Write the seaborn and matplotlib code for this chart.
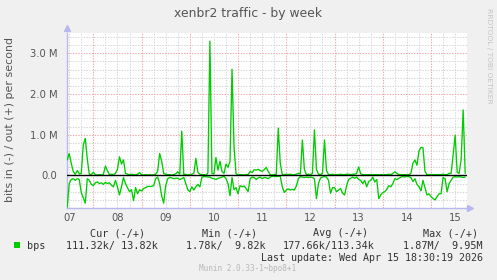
import matplotlib
matplotlib.use("Agg")
import matplotlib.pyplot as plt
from matplotlib.patches import Rectangle
import numpy as np
import pandas as pd
import seaborn as sns

# ---------------- data (M bits/s), hourly samples, hour 0 = day 07 00:00 ----------------
hours = list(range(11, 210))

out_mbps = [
    0.38, 0.54, 0.30, 0.10, 0.03, 0.12, 0.04, 0.05, 0.75, 0.91,   # 11-20
    0.40, 0.03, 0.02, 0.08, 0.02, 0.01, 0.02, 0.01, 0.03, 0.23,   # 21-30
    0.12, 0.02, 0.03, 0.02, 0.05, 0.15, 0.46, 0.28, 0.38, 0.05,   # 31-40
    0.03, 0.02, 0.03, 0.02, 0.02, 0.03, 0.07, 0.02, 0.01, 0.02,   # 41-50
    0.01, 0.02, 0.01, 0.02, 0.03, 0.10, 0.54, 0.35, 0.05, 0.03,   # 51-60
    0.02, 0.02, 0.01, 0.02, 0.04, 0.09, 0.03, 1.09, 0.02, 0.03,   # 61-70
    0.01, 0.02, 0.03, 0.05, 0.42, 0.08, 0.03, 0.02, 0.02, 0.01,   # 71-80
    0.06, 3.30, 0.05, 0.04, 0.44, 0.13, 0.35, 0.10, 0.05, 0.28,   # 81-90
    0.20, 0.35, 2.61, 0.70, 0.04, 0.02, 0.02, 0.02, 0.01, 0.02,   # 91-100
    0.02, 0.10, 0.07, 0.14, 0.13, 0.15, 0.12, 0.10, 0.14, 0.20,   # 101-110
    0.10, 0.02, 0.01, 0.02, 0.03, 1.16, 0.30, 0.02, 0.02, 0.03,   # 111-120
    0.02, 0.03, 0.02, 0.02, 0.03, 0.05, 0.04, 0.87, 0.15, 0.02,   # 121-130
    0.03, 0.02, 0.05, 1.12, 0.15, 0.03, 0.02, 0.05, 0.87, 0.12,   # 131-140
    0.02, 0.02, 0.03, 0.02, 0.02, 0.02, 0.03, 0.02, 0.02, 0.03,   # 141-150
    0.03, 0.02, 0.03, 0.03, 0.05, 0.21, 0.04, 0.02, 0.02, 0.02,   # 151-160
    0.02, 0.02, 0.02, 0.02, 0.02, 0.02, 0.02, 0.02, 0.02, 0.02,   # 161-170
    0.03, 0.02, 0.05, 0.09, 0.05, 0.02, 0.02, 0.02, 0.02, 0.02,   # 171-180
    0.02, 0.05, 0.30, 0.38, 0.25, 0.60, 0.69, 0.68, 0.10, 0.02,   # 181-190
    0.02, 0.02, 0.02, 0.02, 0.02, 0.02, 0.02, 0.03, 0.02, 0.02,   # 191-200
    0.05, 0.05, 0.50, 0.99, 0.08, 0.05, 0.40, 1.61, 0.05,         # 201-209
]

in_mbps = [
    0.78, 0.20, 0.10, 0.08, 0.12, 0.08, 0.10, 0.42, 0.55, 0.68,   # 11-20
    0.08, 0.12, 0.22, 0.25, 0.18, 0.16, 0.20, 0.18, 0.22, 0.17,   # 21-30
    0.20, 0.18, 0.24, 0.28, 0.12, 0.28, 0.48, 0.28, 0.05, 0.20,   # 31-40
    0.30, 0.40, 0.35, 0.62, 0.30, 0.45, 0.35, 0.38, 0.32, 0.30,   # 41-50
    0.27, 0.27, 0.27, 0.25, 0.08, 0.04, 0.20, 0.50, 0.68, 0.25,   # 51-60
    0.08, 0.05, 0.06, 0.08, 0.07, 0.07, 0.10, 0.08, 0.05, 0.20,   # 61-70
    0.35, 0.40, 0.28, 0.36, 0.28, 0.22, 0.28, 0.04, 0.03, 0.03,   # 71-80
    0.04, 0.04, 0.07, 0.08, 0.10, 0.07, 0.06, 0.04, 0.02, 0.08,   # 81-90
    0.20, 0.50, 0.05, 0.35, 0.30, 0.45, 0.25, 0.28, 0.26, 0.32,   # 91-100
    0.40, 0.08, 0.04, 0.05, 0.10, 0.06, 0.04, 0.08, 0.05, 0.06,   # 101-110
    0.08, 0.04, 0.02, 0.02, 0.03, 0.02, 0.02, 0.28, 0.42, 0.36,   # 111-120
    0.33, 0.36, 0.34, 0.36, 0.26, 0.08, 0.03, 0.04, 0.05, 0.04,   # 121-130
    0.05, 0.04, 0.05, 0.08, 0.57, 0.20, 0.06, 0.04, 0.03, 0.04,   # 131-140
    0.12, 0.44, 0.30, 0.30, 0.40, 0.36, 0.32, 0.44, 0.48, 0.25,   # 141-150
    0.10, 0.07, 0.04, 0.07, 0.04, 0.10, 0.12, 0.20, 0.12, 0.28,   # 151-160
    0.15, 0.12, 0.04, 0.16, 0.10, 0.57, 0.48, 0.42, 0.40, 0.34,   # 161-170
    0.25, 0.28, 0.20, 0.08, 0.10, 0.07, 0.04, 0.03, 0.04, 0.02,   # 171-180
    0.03, 0.05, 0.15, 0.08, 0.22, 0.28, 0.38, 0.12, 0.30, 0.48,   # 181-190
    0.45, 0.52, 0.57, 0.60, 0.52, 0.45, 0.45, 0.05, 0.08, 0.40,   # 191-200
    0.20, 0.12, 0.04, 0.03, 0.04, 0.03, 0.04, 0.05, 0.04,         # 201-209
]

day_labels = ["07", "08", "09", "10", "11", "12", "13", "14", "15"]
day_label_hours = [12 + 24 * i for i in range(len(day_labels))]
ytick_values = [0, 1, 2, 3]
ytick_labels = ["0.0", "1.0 M", "2.0 M", "3.0 M"]

title = "xenbr2 traffic - by week"
ylabel = "bits in (-) / out (+) per second"
series_name = "bps"
legend_headers = ["Cur (-/+)", "Min (-/+)", "Avg (-/+)", "Max (-/+)"]
legend_values = ["111.32k/ 13.82k", "1.78k/  9.82k", "177.66k/113.34k", "1.87M/  9.95M"]
last_update = "Last update: Wed Apr 15 18:30:19 2026"
munin_version = "Munin 2.0.33-1~bpo8+1"
watermark = "RRDTOOL / TOBI OETIKER"

df = pd.DataFrame({"hour": hours, "out": out_mbps, "in_neg": [-v for v in in_mbps]})

# ---------------- style ----------------
sns.set_theme(style="white")
plt.rcParams["font.family"] = ["DejaVu Sans"]

W, H = 497, 280
BG = "#f0f0f0"
GREEN = "#00cc00"
TXT = "#555555"
AXBLUE = "#b8b8ee"

fig = plt.figure(figsize=(W / 100, H / 100), dpi=100, facecolor=BG)
ax = fig.add_axes([67 / W, 1 - 208 / H, 400 / W, 175 / H])
ax.set_facecolor("white")

x0, x1 = 10.9, 209.9
y0, y1 = -0.8, 3.5
ax.set_xlim(x0, x1)
ax.set_ylim(y0, y1)

# grid
GRAY = "#d6d6d6"
RED = "#f2a8a8"
for h in range(12, 210, 6):
    if h % 24 == 0:
        ax.axvline(h, color=RED, lw=0.75, ls=(0, (1.3, 1.3)), zorder=1)
    else:
        ax.axvline(h, color=GRAY, lw=0.75, ls=(0, (1.3, 1.3)), zorder=0.5)
for k in range(-4, 18):
    v = k * 0.2
    if k % 5 == 0:
        ax.axhline(v, color=RED, lw=0.75, ls=(0, (1.3, 1.3)), zorder=1)
    else:
        ax.axhline(v, color=GRAY, lw=0.75, ls=(0, (1.3, 1.3)), zorder=0.5)

sns.lineplot(data=df, x="hour", y="in_neg", ax=ax, color=GREEN, linewidth=0.95,
             estimator=None, zorder=3)
sns.lineplot(data=df, x="hour", y="out", ax=ax, color=GREEN, linewidth=0.95,
             estimator=None, zorder=3)
ax.axhline(0, color="black", lw=1.0, zorder=4)

ax.set_xlabel("")
ax.set_ylabel("")
ax.set_xticks(day_label_hours)
ax.set_xticklabels(day_labels)
ax.set_yticks(ytick_values)
ax.set_yticklabels(ytick_labels)
ax.tick_params(axis="both", length=0, labelsize=7.2, colors=TXT)
ax.tick_params(axis="x", pad=3.5)
ax.tick_params(axis="y", pad=7)

for s in ["top", "right"]:
    ax.spines[s].set_visible(False)
for s in ["left", "bottom"]:
    ax.spines[s].set_color(AXBLUE)
    ax.spines[s].set_linewidth(1.0)
ax.plot([0], [1.03], marker="^", color=AXBLUE, markersize=4.5, transform=ax.transAxes, clip_on=False)
ax.plot([1.008], [0], marker=">", color=AXBLUE, markersize=4.5, transform=ax.transAxes, clip_on=False)


def fx(px):
    return px / W


def fy(py):
    return 1 - py / H


fig.text(fx(248), fy(13), title, ha="center", va="center", fontsize=8.9, color=TXT)
fig.text(fx(10), fy(119), ylabel, ha="center", va="center", rotation=90, fontsize=7.9, color=TXT)
fig.text(fx(488.5), fy(56), watermark, ha="center", va="center", rotation=270, fontsize=5.4, color="#c4c4c4")

mono = "DejaVu Sans Mono"
fig.patches.append(Rectangle((fx(14), fy(248)), 6 / W, 6 / H, transform=fig.transFigure,
                             facecolor=GREEN, edgecolor="none"))
fig.text(fx(27), fy(246), series_name, ha="left", va="center", fontsize=7.3, family=mono, color="#333333")
for xpos, txt in zip([90, 202, 313, 423], legend_headers):
    fig.text(fx(xpos), fy(233), txt, ha="left", va="center", fontsize=7.3, family=mono, color="#333333")
for xpos, txt in zip([66, 186, 283, 403], legend_values):
    fig.text(fx(xpos), fy(246), txt, ha="left", va="center", fontsize=7.3, family=mono, color="#333333")
fig.text(fx(483), fy(258), last_update, ha="right", va="center", fontsize=7.2, family=mono, color="#333333")
fig.text(fx(248), fy(268.5), munin_version, ha="center", va="center", fontsize=5.6, family=mono, color="#b8b8b8")

fig.savefig("out.png", dpi=100, facecolor=BG)
